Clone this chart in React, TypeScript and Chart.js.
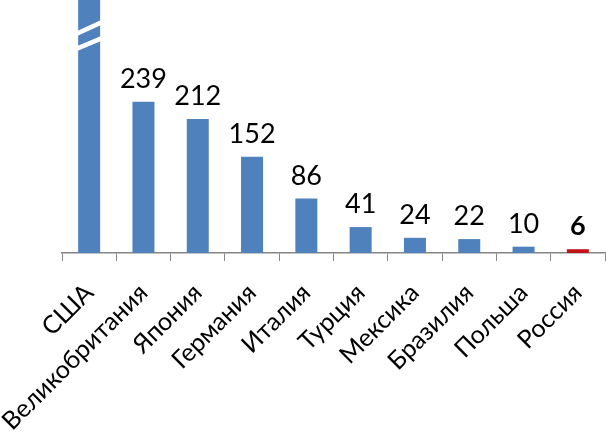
import { useEffect, useRef } from 'react';
import { Chart, registerables } from 'chart.js';

Chart.register(...registerables);

// Data
const categories = ['США', 'Великобритания', 'Япония', 'Германия', 'Италия', 'Турция', 'Мексика', 'Бразилия', 'Польша', 'Россия'];
const values = [640, 239, 212, 152, 86, 41, 24, 22, 10, 6];
const highlighted = 'Россия';
const brokenBar = 'США';
const yMax = 400;

const BLUE = '#4F81BD';
const RED = '#C0141C';
const FONT = 'Lato, "DejaVu Sans", sans-serif';

const valueLabelPlugin = {
  id: 'valueLabels',
  afterDatasetsDraw(chart: any) {
    const ctx = chart.ctx;
    const meta = chart.getDatasetMeta(0);
    ctx.save();
    ctx.textAlign = 'center';
    ctx.textBaseline = 'alphabetic';
    ctx.fillStyle = '#000';
    meta.data.forEach((el: any, i: number) => {
      const v = values[i];
      if (v > yMax) return;
      const bold = categories[i] === highlighted;
      ctx.font = `${bold ? 'bold ' : ''}27px ${FONT}`;
      ctx.fillText(String(v), el.x, el.y - 14);
    });
    ctx.restore();
  },
};

const breakPlugin = {
  id: 'barBreak',
  afterDatasetsDraw(chart: any) {
    const idx = categories.indexOf(brokenBar);
    if (idx < 0) return;
    const el = chart.getDatasetMeta(0).data[idx];
    if (!el) return;
    const ctx = chart.ctx;
    const top = chart.chartArea.top;
    const l = el.x - el.width / 2 - 1;
    const r = el.x + el.width / 2 + 1;
    const stripes = [
      [31, 36, 20, 25],
      [46, 51, 36, 41],
    ];
    ctx.save();
    ctx.fillStyle = '#fff';
    stripes.forEach(([lt, lb, rt, rb]) => {
      ctx.beginPath();
      ctx.moveTo(l, top + lt);
      ctx.lineTo(r, top + rt);
      ctx.lineTo(r, top + rb);
      ctx.lineTo(l, top + lb);
      ctx.closePath();
      ctx.fill();
    });
    ctx.restore();
  },
};

export default function App() {
  const ref = useRef<HTMLCanvasElement>(null);
  useEffect(() => {
    if (!ref.current) return;
    const chart = new Chart(ref.current, {
      type: 'bar',
      data: {
        labels: categories,
        datasets: [
          {
            data: values,
            backgroundColor: categories.map((c) => (c === highlighted ? RED : BLUE)),
            barPercentage: 0.405,
            categoryPercentage: 1,
          },
        ],
      },
      options: {
        responsive: false,
        animation: false,
        layout: { padding: { left: 62, right: 1, top: 0, bottom: 0 } },
        plugins: {
          legend: { display: false },
          tooltip: { enabled: false },
        },
        scales: {
          x: {
            grid: {
              display: true,
              drawOnChartArea: false,
              drawTicks: true,
              tickLength: 8,
              color: '#868686',
              offset: true,
            },
            border: { display: true, color: '#868686', width: 1.5 },
            ticks: {
              minRotation: 45,
              maxRotation: 45,
              autoSkip: false,
              padding: 17,
              color: '#000',
              font: { family: FONT, size: 25 },
            },
            afterFit: (scale: any) => {
              scale.height = 186;
              scale.paddingLeft = 0;
              scale.paddingRight = 0;
            },
          },
          y: {
            display: false,
            min: 0,
            max: yMax,
          },
        },
      },
      plugins: [valueLabelPlugin, breakPlugin],
    });
    return () => chart.destroy();
  }, []);
  return (
    <div style={{ position: 'fixed', left: 0, top: 0, width: 606, height: 439, background: '#fff' }}>
      <canvas ref={ref} width={606} height={439} style={{ display: 'block' }} />
    </div>
  );
}
